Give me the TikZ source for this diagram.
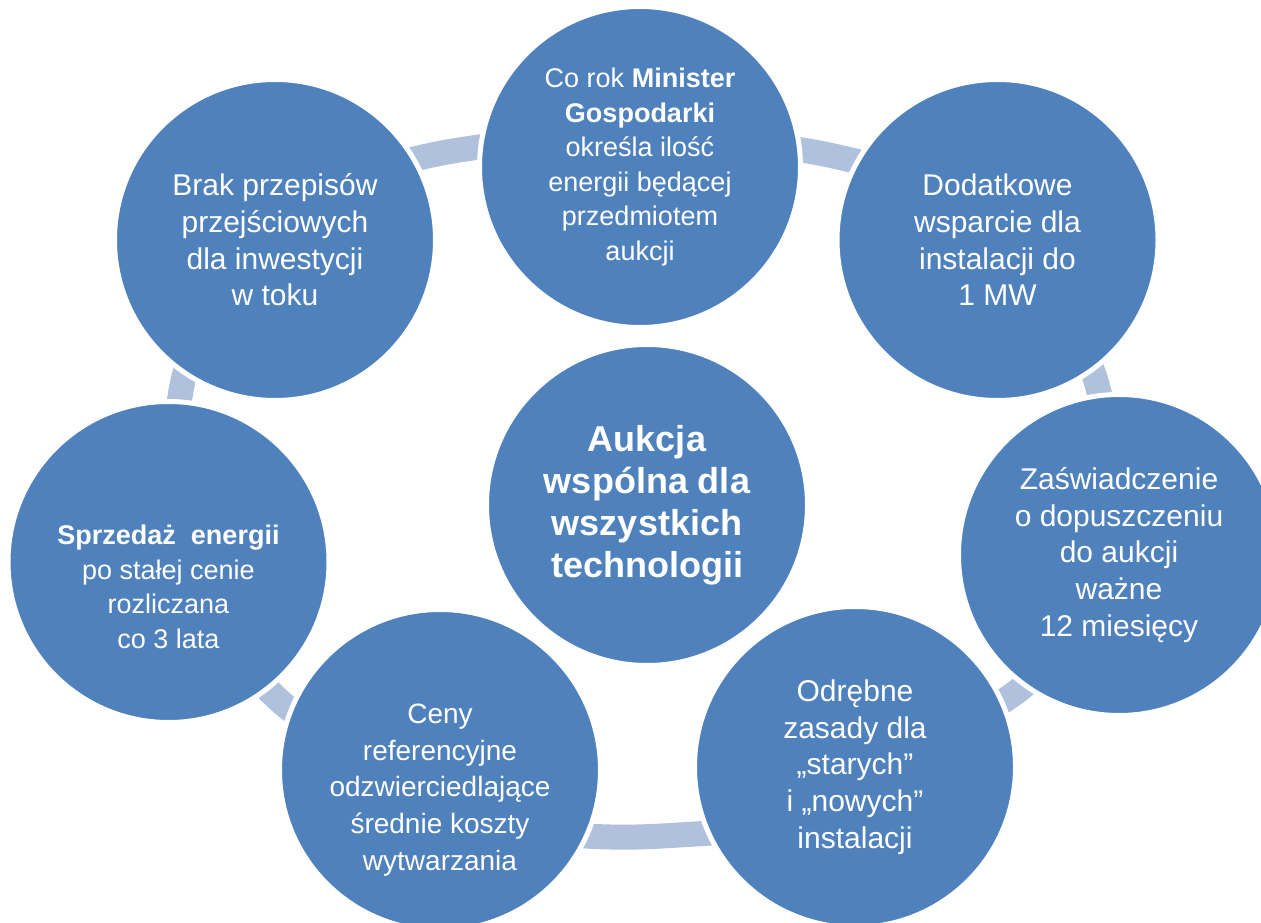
\documentclass[tikz,border=0pt]{standalone}
\usepackage{fontspec}
\setmainfont{Liberation Sans}
\usetikzlibrary{backgrounds}
\definecolor{circblue}{RGB}{79,129,189}
\definecolor{ringblue}{RGB}{176,193,221}
\begin{document}
\begin{tikzpicture}[x=1pt,y=1pt,
  bubble/.style={circle, fill=circblue, draw=white, line width=5pt,
    minimum size=321pt, inner sep=0pt, text=white, align=center},
  txt/.style={text=white, align=center, inner sep=0pt},
  ring/.style={draw=ringblue, line width=25pt, shorten <=-14pt, shorten >=-14pt},
  fA/.style={font=\fontsize{30}{36.7}\selectfont},
  fB/.style={font=\fontsize{27}{34.5}\selectfont},
  fC/.style={font=\fontsize{28}{36.7}\selectfont},
  fD/.style={font=\fontsize{36}{42}\selectfont\bfseries}]
\useasboundingbox (0,0) rectangle (1261,923);

\node[bubble, fB] (T) at (640,756)
  {Co rok \textbf{Minister}\\\textbf{Gospodarki}\\określa ilość\\energii będącej\\przedmiotem\\aukcji};
\node[bubble, fA] (TR) at (997.5,683)
  {Dodatkowe\\wsparcie dla\\instalacji do\\1 MW};
\node[bubble, fA] (R) at (1119,368)
  {Zaświadczenie\\o dopuszczeniu\\do aukcji\\ważne\\12 miesięcy};
\node[bubble, fA] (BR) at (855,156)
  {Odrębne\\zasady dla\\„starych”\\i „nowych”\\instalacji};
\node[bubble] (BL) at (440,153) {};
\node[txt, fC] (BLtxt) at (440,133)
  {Ceny\\referencyjne\\odzwierciedlające\\średnie koszty\\wytwarzania};
\node[bubble] (L) at (168.5,361) {};
\node[txt, fB] (Ltxt) at (168.5,336)
  {\textbf{Sprzedaż\ \ energii}\\po stałej cenie\\rozliczana\\co 3 lata};
\node[bubble, fA] (TL) at (275,683)
  {Brak przepisów\\przejściowych\\dla inwestycji\\w toku};
\node[bubble, fD] (C) at (647,418)
  {Aukcja\\wspólna dla\\wszystkich\\technologii};

\begin{scope}[on background layer]
  \fill[white] (0,0) rectangle (1261,923);
  \draw[ring] (TL.30) to[out=14,in=188] (T.173);
  \draw[ring] (T.6) to[out=-8,in=167] (TR.151);
  \draw[ring] (TR.-54) to[out=-66,in=106] (R.97);
  \draw[ring] (R.-126) to[out=-138,in=34] (BR.24);
  \draw[ring] (BR.204) to[out=183,in=-4] (BL.-24);
  \draw[ring] (BL.158) to[out=144,in=-45] (L.-52);
  \draw[ring] (L.86) to[out=78,in=-110] (TL.-124);
\end{scope}
\end{tikzpicture}
\end{document}
